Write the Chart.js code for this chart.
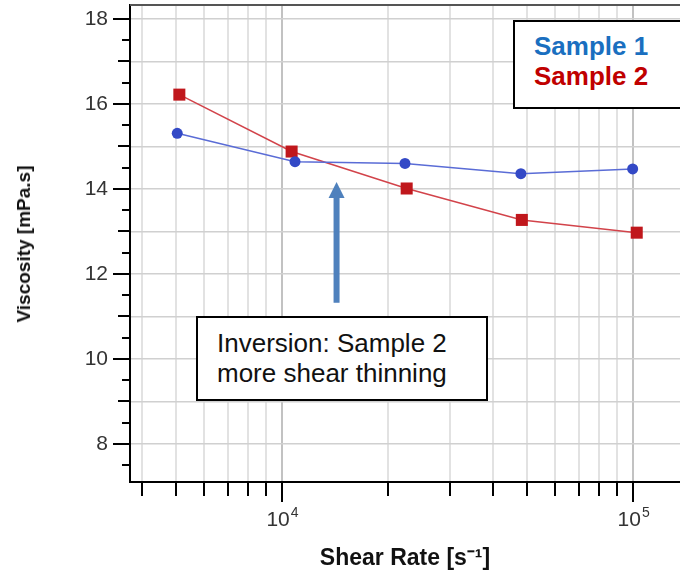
<!DOCTYPE html>
<html>
<head>
<meta charset="utf-8">
<script src="https://cdn.jsdelivr.net/npm/chart.js@4.4.1/dist/chart.umd.min.js"></script>
<style>
  html, body { margin: 0; padding: 0; background: #fff; overflow: hidden; }
  #wrap { position: relative; width: 680px; height: 571px; overflow: hidden;
          font-family: "Liberation Sans", Arial, sans-serif; }
  #chart { position: absolute; left: 0; top: 0; }
  .box { position: absolute; background: #fff; border: 2px solid #000; box-sizing: border-box;
         font-size: 26px; line-height: 30px; white-space: nowrap; }
  #legendBox { left: 513px; top: 20px; width: 190px; height: 89px; padding: 9px 0 0 19px; font-weight: bold; }
  #noteBox { left: 196px; top: 316px; width: 292px; height: 85px; padding: 10px 0 0 19px; color: #111; }
  .axisTitle { position: absolute; font-weight: bold; color: #111; white-space: nowrap; }
  #yTitle { left: 24px; top: 244px; font-size: 19px; transform: translate(-50%, -50%) rotate(-90deg); }
  #xTitle { left: 405px; top: 556px; font-size: 23px; transform: translate(-50%, -50%); }
</style>
</head>
<body>
<div id="wrap">
  <canvas id="chart" width="680" height="571"></canvas>
  <div id="legendBox" class="box">
    <div style="color:#1a6fc0">Sample 1</div>
    <div style="color:#c00000">Sample 2</div>
  </div>
  <div id="noteBox" class="box">Inversion: Sample 2<br>more shear thinning</div>
  <div id="yTitle" class="axisTitle">Viscosity [mPa.s]</div>
  <div id="xTitle" class="axisTitle">Shear Rate [s⁻¹]</div>
</div>
<script>
// values
const shearRate1 = [5030, 10890, 22400, 47900, 99700];
const viscosity1 = [15.31, 14.64, 14.60, 14.36, 14.47];
const shearRate2 = [5100, 10650, 22650, 48200, 102400];
const viscosity2 = [16.22, 14.88, 14.01, 13.27, 12.97];

const xTicks = [4000, 5000, 6000, 7000, 8000, 9000, 10000, 20000, 30000, 40000, 50000, 60000, 70000, 80000, 90000, 100000];
const xExponents = { 10000: "4", 100000: "5" };
const yTicks = [7.5, 8, 8.5, 9, 9.5, 10, 10.5, 11, 11.5, 12, 12.5, 13, 13.5, 14, 14.5, 15, 15.5, 16, 16.5, 17, 17.5, 18];

// arrow annotation, in data units
const arrowX = 14300;
const arrowTip = 14.16;
const arrowTail = 11.32;

const fontFamily = "'Liberation Sans', Arial, sans-serif";
const tickFont = { family: fontFamily, size: 21 };

const extras = {
  id: "extras",
  afterDraw(chart) {
    const { ctx, chartArea: a, scales: { x, y } } = chart;
    ctx.save();
    // tick marks
    ctx.strokeStyle = "#000";
    ctx.lineWidth = 2;
    ctx.beginPath();
    y.ticks.forEach((t) => {
      const py = Math.round(y.getPixelForValue(t.value));
      const len = t.value % 2 === 0 ? 17 : t.value % 1 === 0 ? 12 : 8;
      ctx.moveTo(a.left - len, py);
      ctx.lineTo(a.left, py);
    });
    x.ticks.forEach((t) => {
      const px = Math.round(x.getPixelForValue(t.value));
      const len = xExponents[t.value] ? 20 : 14;
      ctx.moveTo(px, a.bottom);
      ctx.lineTo(px, a.bottom + len);
    });
    ctx.stroke();
    // decade labels 10^n
    ctx.fillStyle = "#333";
    ctx.textBaseline = "alphabetic";
    ctx.textAlign = "left";
    x.ticks.forEach((t) => {
      const exp = xExponents[t.value];
      if (!exp) return;
      const px = x.getPixelForValue(t.value);
      ctx.font = "21px " + fontFamily;
      const wBase = ctx.measureText("10").width;
      ctx.font = "14px " + fontFamily;
      const wExp = ctx.measureText(exp).width;
      const x0 = px - (wBase + wExp) / 2;
      ctx.font = "21px " + fontFamily;
      ctx.fillText("10", x0, a.bottom + 44);
      ctx.font = "14px " + fontFamily;
      ctx.fillText(exp, x0 + wBase + 1, a.bottom + 35);
    });
    // top frame
    ctx.strokeStyle = "#555";
    ctx.beginPath();
    ctx.moveTo(a.left, a.top);
    ctx.lineTo(a.right, a.top);
    ctx.stroke();
    // arrow
    const ax = x.getPixelForValue(arrowX);
    const tip = y.getPixelForValue(arrowTip);
    const tail = y.getPixelForValue(arrowTail);
    ctx.fillStyle = "#4f81bd";
    ctx.fillRect(ax - 3, tip + 14, 6, tail - tip - 14);
    ctx.beginPath();
    ctx.moveTo(ax, tip);
    ctx.lineTo(ax + 8, tip + 16);
    ctx.lineTo(ax - 8, tip + 16);
    ctx.closePath();
    ctx.fill();
    ctx.restore();
  },
};

new Chart(document.getElementById("chart"), {
  type: "line",
  data: {
    datasets: [
      {
        label: "Sample 1",
        data: shearRate1.map((v, i) => ({ x: v, y: viscosity1[i] })),
        borderColor: "#5a6cd6",
        borderWidth: 1.5,
        pointStyle: "circle",
        pointRadius: 5.5,
        pointBackgroundColor: "#3349c6",
        pointBorderColor: "#3349c6",
        pointBorderWidth: 0,
        tension: 0,
      },
      {
        label: "Sample 2",
        data: shearRate2.map((v, i) => ({ x: v, y: viscosity2[i] })),
        borderColor: "#d2434a",
        borderWidth: 1.5,
        pointStyle: "rect",
        pointRadius: 8.5,
        pointBackgroundColor: "#c0171c",
        pointBorderColor: "#c0171c",
        pointBorderWidth: 0,
        tension: 0,
      },
    ],
  },
  options: {
    responsive: false,
    animation: false,
    devicePixelRatio: 1,
    layout: { autoPadding: false, padding: { top: 5, left: 0, right: 0, bottom: 0 } },
    plugins: { legend: { display: false }, tooltip: { enabled: false } },
    scales: {
      x: {
        type: "logarithmic",
        min: 3690,
        max: 136000,
        afterBuildTicks: (s) => {
          s.ticks = xTicks.map((v) => ({ value: v }));
        },
        afterFit: (s) => {
          s.height = 89;
          s.paddingLeft = 0;
          s.paddingRight = 0;
        },
        ticks: {
          autoSkip: false,
          maxRotation: 0,
          padding: 0,
          font: tickFont,
          callback: () => "",
        },
        grid: {
          drawTicks: false,
          lineWidth: 2,
          color: (c) => (c.tick && xExponents[c.tick.value] ? "#c2c2c2" : "#e2e2e2"),
        },
        border: { display: true, color: "#000", width: 2 },
      },
      y: {
        type: "linear",
        min: 7.1,
        max: 18.33,
        afterBuildTicks: (s) => {
          s.ticks = yTicks.map((v) => ({ value: v }));
        },
        afterFit: (s) => {
          s.width = 130;
          s.paddingTop = 0;
          s.paddingBottom = 0;
        },
        ticks: {
          autoSkip: false,
          padding: 22,
          color: "#333",
          font: tickFont,
          callback: (v) => (v % 2 === 0 ? v : ""),
        },
        grid: {
          drawTicks: false,
          lineWidth: 1.5,
          color: (c) => (c.tick && c.tick.value % 1 === 0 ? "#d0d0d0" : "rgba(0,0,0,0)"),
        },
        border: { display: true, color: "#000", width: 2 },
      },
    },
  },
  plugins: [extras],
});
</script>
</body>
</html>
